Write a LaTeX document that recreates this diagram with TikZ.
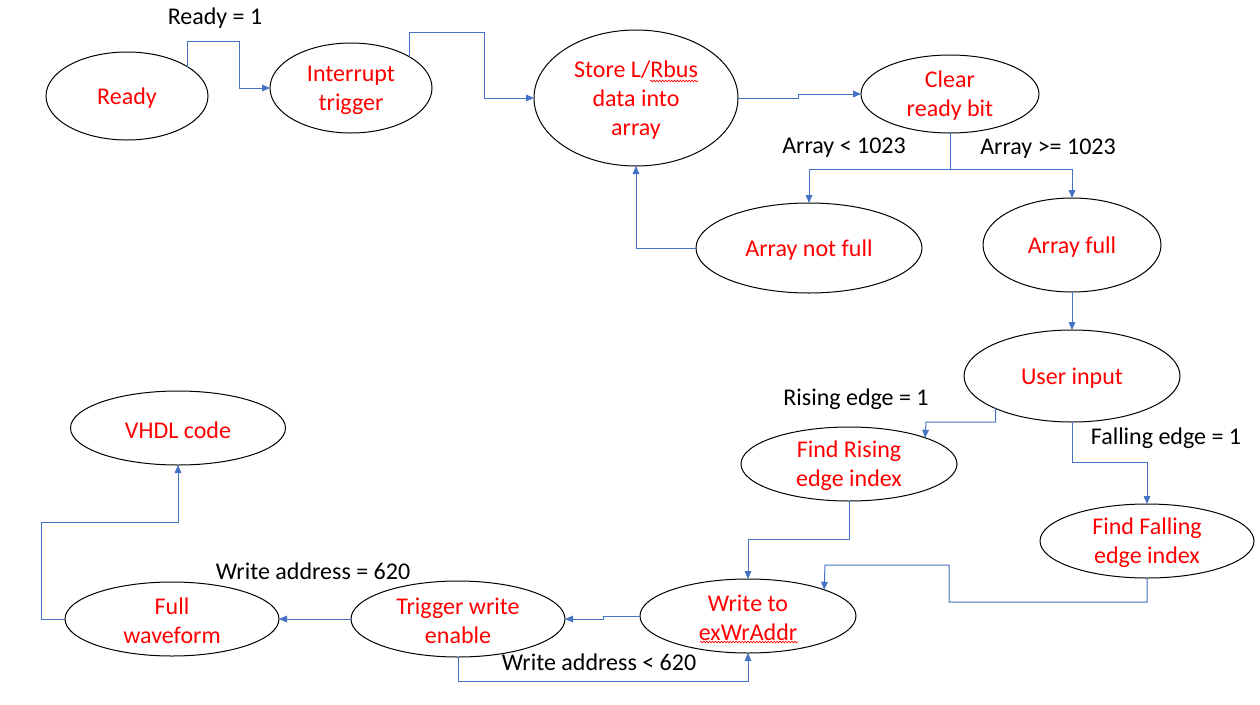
\documentclass[tikz,border=0pt]{standalone}
\usepackage{fontspec}
\setmainfont{Carlito}
\usetikzlibrary{shapes.geometric,arrows.meta,decorations.pathmorphing}
\definecolor{conncol}{HTML}{4472C4}
\definecolor{txtred}{HTML}{FF0000}
\tikzset{
  state/.style={ellipse, draw=black, line width=0.75pt, inner sep=0pt, outer sep=0pt},
  stxt/.style={text=txtred, align=center, inner sep=0pt, yshift=-1.5pt, font=\fontsize{18}{21.75}\selectfont},
  conn/.style={draw=conncol, line width=0.75pt},
  arr/.style={conn, -{Triangle[length=6pt,width=5pt]}},
  lbl/.style={text=black, font=\fontsize{18}{21.75}\selectfont, inner sep=0pt},
  squiggle/.style={draw=txtred, line width=0.5pt, decorate, decoration={snake, segment length=2.2pt, amplitude=0.6pt}}
}
\begin{document}
\begin{tikzpicture}[x=0.75pt, y=-0.75pt]
\useasboundingbox (0,0) rectangle (1260,704);
\fill[white] (0,0) rectangle (1260,704);

% states (sizes in pt = px * 0.75)
\node[state, minimum width=121.5pt, minimum height=66pt, label={[stxt]center:Ready}] (ready) at (127,96) {};
\node[state, minimum width=121.5pt, minimum height=67.5pt, label={[stxt]center:Interrupt\\trigger}] (intr) at (351,88) {};
\node[state, minimum width=153pt, minimum height=102pt, label={[stxt]center:Store L/Rbus\\data into\\array}] (store) at (636,98) {};
\node[state, minimum width=133.5pt, minimum height=58.5pt, label={[stxt]center:Clear\\ready bit}] (clear) at (950,94) {};
\node[state, minimum width=169.5pt, minimum height=67.5pt, label={[stxt]center:Array not full}] (notfull) at (809,248) {};
\node[state, minimum width=133.5pt, minimum height=70.5pt, label={[stxt]center:Array full}] (full) at (1072,245) {};
\node[state, minimum width=162pt, minimum height=69pt, label={[stxt]center:User input}] (user) at (1072,376) {};
\node[state, minimum width=162pt, minimum height=55.5pt, label={[stxt]center:Find Rising\\edge index}] (rising) at (849,464) {};
\node[state, minimum width=160.5pt, minimum height=55.5pt, label={[stxt]center:Find Falling\\edge index}] (falling) at (1147,541) {};
\node[state, minimum width=162pt, minimum height=55.5pt, label={[stxt]center:Write to\\exWrAddr}] (write) at (748,616) {};
\node[state, minimum width=160.5pt, minimum height=57pt, label={[stxt]center:Trigger write\\enable}] (trigger) at (458,619) {};
\node[state, minimum width=160.5pt, minimum height=55.5pt, label={[stxt]center:Full\\waveform}] (wave) at (172,619) {};
\node[state, minimum width=161.25pt, minimum height=55.5pt, label={[stxt]center:VHDL code}] (vhdl) at (178,428) {};

% spell-check squiggles
\draw[squiggle] (650,81) -- (698,81);
\draw[squiggle] (700,642) -- (798,642);

% labels
\node[lbl] (lready) at (215,18) {Ready = 1};
\node[lbl] (lless) at (844,148) {Array < 1023};
\node[lbl] (lmore) at (1048,149) {Array >= 1023};
\node[lbl] (lrise) at (856,399) {Rising edge = 1};
\node[lbl] (lfall) at (1166,438) {Falling edge = 1};
\node[lbl] (leq) at (313,571) {Write address = 620};
\node[lbl] (llt) at (599,662) {Write address < 620};

% connectors
\draw[arr] (ready.26) |- (239,41) |- (intr.west);
\draw[arr] (intr.28) |- (484,32) |- (store.west);
\draw[arr] (store.east) -- (798,98) |- (clear.west);
\coordinate (split) at (950,169);
\draw[conn] (clear.south) -- (split);
\draw[arr] (split) -| (notfull.north);
\draw[arr] (split) -| (full.north);
\draw[arr] (notfull.west) -| (store.south);
\draw[arr] (full.south) -- (user.north);
\draw[arr] (user.203) |- (926,422) -- (rising.19);
\draw[arr] (user.south) |- (1147,462) -- (falling.north);
\draw[arr] (rising.south) |- (748,539) -- (write.north);
\draw[arr] (falling.south) |- (949,602) |- (825,565) -- (write.19);
\draw[arr] (write.west) -- (603,616) |- (trigger.east);
\draw[arr] (trigger.west) -- (wave.east);
\draw[arr] (trigger.south) |- (748,681) -- (write.south);
\draw[arr] (wave.west) -| (41,522) -| (vhdl.south);
\end{tikzpicture}
\end{document}
